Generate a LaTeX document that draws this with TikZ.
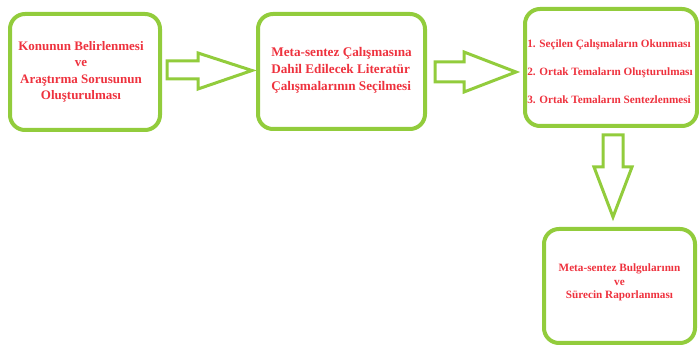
\documentclass[tikz,border=0pt]{standalone}
\usepackage{fontspec}
\setmainfont{Liberation Serif}
\definecolor{boxgreen}{RGB}{146,204,60}
\definecolor{txtred}{RGB}{238,50,62}
\begin{document}
\begin{tikzpicture}[x=1pt,y=1pt,
  flowbox/.style={draw=boxgreen,line width=4pt,rounded corners=15pt,inner sep=0pt},
  blockarrow/.style={draw=boxgreen,line width=3pt,line join=miter,fill=white},
  bigtxt/.style={text=txtred,font=\fontsize{13.2}{17}\selectfont\bfseries,inner sep=0pt},
  smalltxt/.style={text=txtred,font=\fontsize{11.2}{13.5}\selectfont\bfseries,inner sep=0pt}]
\useasboundingbox (0,0) rectangle (699,348);
% boxes
\node[flowbox,minimum width=150pt,minimum height=116pt] (b1) at (85,276) {};
\node[flowbox,minimum width=167pt,minimum height=115pt] (b2) at (341.5,276.5) {};
\node[flowbox,minimum width=172pt,minimum height=117pt] (b3) at (611,280.5) {};
\node[flowbox,minimum width=151pt,minimum height=114pt] (b4) at (619.5,62) {};
% texts
\node[bigtxt,align=center,font=\fontsize{13}{16.5}\selectfont\bfseries] (t1) at ([xshift=-4pt]b1.center)
  {Konunun Belirlenmesi\\ve\\Araştırma Sorusunun\\Oluşturulması};
\node[bigtxt,align=left] (t2) at ([yshift=1.5pt]b2.center)
  {Meta-sentez Çalışmasına\\Dahil Edilecek Literatür\\Çalışmalarının Seçilmesi};
\node[smalltxt,align=left] (t3) at ([xshift=-1pt,yshift=-4pt]b3.center)
  {1. Seçilen Çalışmaların Okunması\\[14.5pt]2. Ortak Temaların Oluşturulması\\[14.5pt]3. Ortak Temaların Sentezlenmesi};
\node[smalltxt,align=center] (t4) at ([yshift=3.5pt]b4.center)
  {Meta-sentez Bulgularının\\ve\\Sürecin Raporlanması};
% block arrows
\draw[blockarrow] ([xshift=5pt]b1.east |- 0,287) -- (198,287) -- (198,295) -- ([xshift=-4pt]b2.west |- 0,277.5)
  -- (198,259) -- (198,269) -- ([xshift=5pt]b1.east |- 0,269) -- cycle;
\draw[blockarrow] ([xshift=8pt]b2.east |- 0,286) -- (464,286) -- (464,296) -- ([xshift=-7pt]b3.west |- 0,276)
  -- (464,256) -- (464,266) -- ([xshift=8pt]b2.east |- 0,266) -- cycle;
\draw[blockarrow] (603,213) -- (623,213) -- (623,181) -- (632,181) -- (613,131) -- (594,181) -- (603,181) -- cycle;
\end{tikzpicture}
\end{document}
